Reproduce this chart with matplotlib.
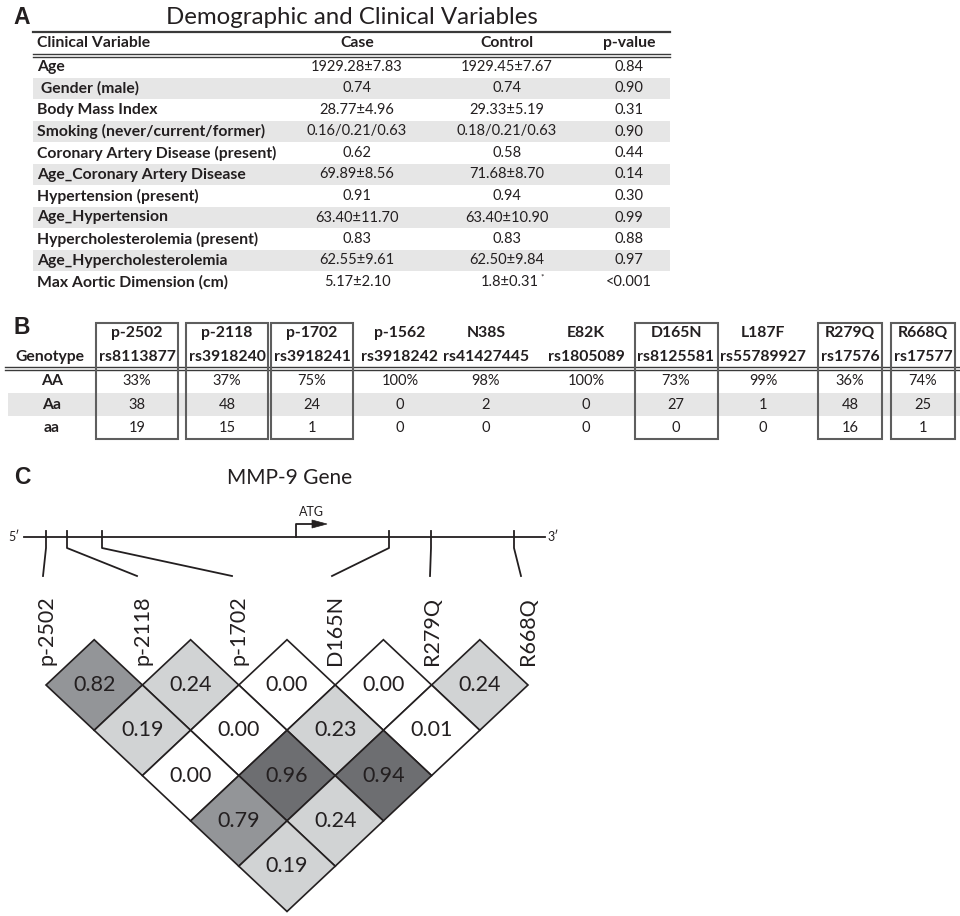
import matplotlib
matplotlib.use("Agg")
import matplotlib.pyplot as plt
from matplotlib.patches import Polygon, Rectangle

plt.rcParams['font.family'] = ['Lato', 'DejaVu Sans']

INK = '#231f20'
SHADE = '#e6e6e6'

# --- Panel A: demographic and clinical variables
clin_vars = ['Age', ' Gender (male)', 'Body Mass Index', 'Smoking (never/current/former)',
             'Coronary Artery Disease (present)', 'Age_Coronary Artery Disease',
             'Hypertension (present)', 'Age_Hypertension', 'Hypercholesterolemia (present)',
             'Age_Hypercholesterolemia', 'Max Aortic Dimension (cm)']
case_vals = ['1929.28±7.83', '0.74', '28.77±4.96', '0.16/0.21/0.63', '0.62', '69.89±8.56',
             '0.91', '63.40±11.70', '0.83', '62.55±9.61', '5.17±2.10']
control_vals = ['1929.45±7.67', '0.74', '29.33±5.19', '0.18/0.21/0.63', '0.58', '71.68±8.70',
                '0.94', '63.40±10.90', '0.83', '62.50±9.84', '1.8±0.31*']
p_vals = ['0.84', '0.90', '0.31', '0.90', '0.44', '0.14', '0.30', '0.99', '0.88', '0.97', '<0.001']

# --- Panel B: genotype frequencies
snp_names = ['p-2502', 'p-2118', 'p-1702', 'p-1562', 'N38S', 'E82K', 'D165N', 'L187F', 'R279Q', 'R668Q']
rs_ids = ['rs8113877', 'rs3918240', 'rs3918241', 'rs3918242', 'rs41427445', 'rs1805089',
          'rs8125581', 'rs55789927', 'rs17576', 'rs17577']
genotypes = ['AA', 'Aa', 'aa']
freq_AA = ['33%', '37%', '75%', '100%', '98%', '100%', '73%', '99%', '36%', '74%']
freq_Aa = ['38', '48', '24', '0', '2', '0', '27', '1', '48', '25']
freq_aa = ['19', '15', '1', '0', '0', '0', '0', '0', '16', '1']

# --- Panel C: LD (r^2) between the boxed SNPs, one list per marker distance
ld_snps = ['p-2502', 'p-2118', 'p-1702', 'D165N', 'R279Q', 'R668Q']
ld_lag1 = [0.82, 0.24, 0.00, 0.00, 0.24]
ld_lag2 = [0.19, 0.00, 0.23, 0.01]
ld_lag3 = [0.00, 0.96, 0.94]
ld_lag4 = [0.79, 0.24]
ld_lag5 = [0.19]
# schematic SNP positions along the gene line and where their leader lines end
gene_track_x = [46, 67, 102, 389, 431, 514]
lead_end_x = [43, 137, 232, 332, 430, 521]

fig = plt.figure(figsize=(9.6, 9.16), dpi=100)
ax = fig.add_axes([0, 0, 1, 1])
ax.set_xlim(0, 960)
ax.set_ylim(916, 0)
ax.axis('off')

panel_font = dict(family='Liberation Sans', fontsize=16.5, fontweight='bold', color=INK)
BOLD_FS = 11.3
REG_FS = 10.5

# ================= A =================
ax.text(22, 18, 'A', ha='center', va='center', **panel_font)
ax.text(352, 18, 'Demographic and Clinical Variables', ha='center', va='center',
        fontsize=17.3, color=INK)
ax_l, ax_r = 33, 670
col_case, col_ctrl, col_p = 357, 507, 629
ax.plot([ax_l, ax_r], [32, 32], color='#3a3a3a', lw=1.6)
ax.plot([ax_l, ax_r], [54, 54], color='#3a3a3a', lw=1.0)
ax.plot([ax_l, ax_r], [57, 57], color='#3a3a3a', lw=1.0)
hdr = dict(ha='center', va='center', fontsize=BOLD_FS, fontweight='bold', color=INK)
ax.text(ax_l + 4, 43, 'Clinical Variable', ha='left', va='center', fontsize=BOLD_FS,
        fontweight='bold', color=INK)
ax.text(col_case, 43, 'Case', **hdr)
ax.text(col_ctrl, 43, 'Control', **hdr)
ax.text(col_p, 43, 'p-value', **hdr)

row_h = 21.5
for i, name in enumerate(clin_vars):
    y = 67 + i * row_h
    if i % 2 == 1:
        ax.add_patch(Rectangle((ax_l, y - row_h / 2), ax_r - ax_l, row_h,
                               facecolor=SHADE, edgecolor='none', zorder=0))
    ax.text(ax_l + 4, y, name, ha='left', va='center', fontsize=BOLD_FS,
            fontweight='bold', color=INK)
    ax.text(col_case, y, case_vals[i], ha='center', va='center', fontsize=REG_FS, color=INK)
    ctrl = control_vals[i]
    if ctrl.endswith('*'):
        ax.text(col_ctrl + 32, y, ctrl[:-1], ha='right', va='center',
                fontsize=REG_FS, color=INK)
        ax.text(col_ctrl + 33, y - 5, '*', ha='left', va='center', fontsize=6, color=INK)
    else:
        ax.text(col_ctrl, y, ctrl, ha='center', va='center', fontsize=REG_FS, color=INK)
    ax.text(col_p, y, p_vals[i], ha='center', va='center', fontsize=REG_FS, color=INK)

# ================= B =================
ax.text(22, 328, 'B', ha='center', va='center', **panel_font)
snp_x = [137, 227, 312, 400, 486, 586, 676, 763, 850, 923]
ax.text(50, 357, 'Genotype', ha='center', va='center', fontsize=BOLD_FS,
        fontweight='bold', color=INK)
ax.plot([5, 960], [367, 367], color='#3a3a3a', lw=1.0)
ax.plot([5, 960], [370, 370], color='#3a3a3a', lw=1.0)

geno_y = [381, 405, 428]
ax.add_patch(Rectangle((8, 393), 952, 23, facecolor=SHADE, edgecolor='none', zorder=0))
for gy, g in zip(geno_y, genotypes):
    ax.text(52, gy, g, ha='center', va='center', fontsize=BOLD_FS, fontweight='bold', color=INK)

fig.canvas.draw()
renderer = fig.canvas.get_renderer()
inv = ax.transData.inverted()
for j, (name, rs) in enumerate(zip(snp_names, rs_ids)):
    x = snp_x[j]
    ax.text(x, 333, name, ha='center', va='center', fontsize=BOLD_FS, fontweight='bold', color=INK)
    rs_txt = ax.text(x, 357, rs, ha='center', va='center', fontsize=BOLD_FS,
                     fontweight='bold', color=INK)
    for gy, vals in zip(geno_y, [freq_AA, freq_Aa, freq_aa]):
        ax.text(x, gy, vals[j], ha='center', va='center', fontsize=REG_FS, color=INK)
    if name in ld_snps:
        bb = rs_txt.get_window_extent(renderer)
        (bx0, _), (bx1, _) = inv.transform([[bb.x0, bb.y0], [bb.x1, bb.y1]])
        ax.add_patch(Rectangle((bx0 - 3, 323), (bx1 - bx0) + 6, 116, facecolor='none',
                               edgecolor='#5e5e5e', lw=1.5, zorder=3))

# ================= C =================
ax.text(22, 478, 'C', ha='center', va='center', **panel_font)
ax.text(290, 478, 'MMP-9 Gene', ha='center', va='center', fontsize=15, color=INK)

line_y = 537
ax.plot([24, 545], [line_y, line_y], color=INK, lw=1.3)
ax.text(20, line_y, '5′', ha='right', va='center', fontsize=9, color=INK)
ax.text(547, line_y, '3′', ha='left', va='center', fontsize=9, color=INK)
# ATG start arrow
ax.plot([296, 296, 313], [line_y, 524, 524], color=INK, lw=1.3)
ax.add_patch(Polygon([[312, 520], [327, 524], [312, 528]], closed=True,
                     facecolor=INK, edgecolor=INK, lw=0.5))
ax.text(311, 512, 'ATG', ha='center', va='center', fontsize=9, color=INK)

# LD diamonds geometry
hw, hh = 48.2, 45.3
left_x = 46
top_row_y = 685
marker_x = [left_x + 2 * hw * k for k in range(len(ld_snps))]

label_bottom = 665
lead_end_y = 576
for k, name in enumerate(ld_snps):
    gx = gene_track_x[k]
    ax.plot([gx, gx, lead_end_x[k]], [531, 548, lead_end_y], color=INK, lw=1.3)
    ax.text(marker_x[k], label_bottom, name, rotation=90, ha='center', va='bottom',
            fontsize=15.5, color=INK)


def ld_color(v):
    if v < 0.1:
        return 'white'
    if v < 0.5:
        return '#d1d3d4'
    if v < 0.9:
        return '#939598'
    return '#6d6e71'


for lag, vals in enumerate([ld_lag1, ld_lag2, ld_lag3, ld_lag4, ld_lag5], start=1):
    for i, v in enumerate(vals):
        j = i + lag
        cx = (marker_x[i] + marker_x[j]) / 2
        cy = top_row_y + (lag - 1) * hh
        diamond = Polygon([[cx, cy - hh], [cx + hw, cy], [cx, cy + hh], [cx - hw, cy]],
                          closed=True, facecolor=ld_color(v), edgecolor=INK, lw=1.2)
        ax.add_patch(diamond)
        ax.text(cx, cy, f'{v:.2f}', ha='center', va='center', fontsize=15.5, color=INK)

fig.savefig('out.png', dpi=100)
